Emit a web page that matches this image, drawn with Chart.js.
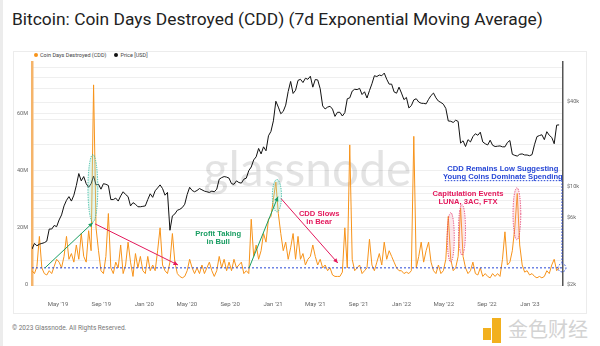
<!DOCTYPE html>
<html>
<head>
<meta charset="utf-8">
<script src="https://cdn.jsdelivr.net/npm/chart.js@4.4.0/dist/chart.umd.min.js"></script>
<style>
  html, body { margin: 0; padding: 0; background: #fff; }
  body { width: 600px; height: 346px; position: relative; overflow: hidden; font-family: Roboto, sans-serif; }
  #edge { position: absolute; left: 0; top: 0; width: 3px; height: 346px; background: #ececec; }
  #title { position: absolute; left: 12px; top: 9px; font-size: 17.4px; color: #222; white-space: nowrap; }
  #card { position: absolute; left: 13px; top: 51px; width: 574px; height: 263px; border: 1px solid #ececec; box-sizing: border-box; }
  #legend { position: absolute; left: 34px; top: 51px; font-size: 5.5px; line-height: 8px; color: #444; white-space: nowrap; }
  #legend i { display: inline-block; width: 4px; height: 4px; border-radius: 50%; margin-right: 2px; vertical-align: 0; }
  #legend span { margin-right: 8px; }
  #cdd { position: absolute; left: 13px; top: 51px; }
  #foot { position: absolute; left: 12px; top: 324px; font-size: 6.5px; color: #777; }
  #logo1 { position: absolute; left: 483px; top: 328px; width: 8px; height: 12px; background: #f2b01e; }
  #logo2 { position: absolute; left: 492px; top: 318px; width: 9px; height: 25px; background: #f2b01e; }
  #logo3 { position: absolute; left: 508px; top: 314px; font-family: "Noto Sans CJK SC"; font-size: 20px; color: #d3d3d3; }
</style>
</head>
<body>
<div id="edge"></div>
<div id="title">Bitcoin: Coin Days Destroyed (CDD) (7d Exponential Moving Average)</div>
<div id="card"></div>
<div id="legend"><span><i style="background:#f7931a"></i>Coin Days Destroyed (CDD)</span><span><i style="background:#111"></i>Price [USD]</span></div>
<canvas id="cdd" width="574" height="263"></canvas>
<div id="foot">© 2023 Glassnode. All Rights Reserved.</div>
<div id="logo1"></div><div id="logo2"></div><div id="logo3">金色财经</div>
<script>
// weekly samples, day 0 = 2019-01-01, first sample 2019-02-15
const START_DAY = 46;
const STEP_DAYS = 7;

// Coin Days Destroyed, 7d EMA (millions)
const cddValues = [
  5, 4, 6.5, 17, 6, 4, 3.5, 5, 4, 6.5,
  9, 8, 6, 10, 17, 9, 11, 8, 14, 9,
  18, 10, 8, 19, 12, 70, 20, 12, 5, 4,
  10, 25, 6, 4, 8, 6, 14, 4, 7, 15,
  8, 3, 11, 6, 10, 5, 4, 10, 5, 7,
  5, 12, 20, 7, 5, 4, 8, 18, 8, 4,
  3, 2.5, 3, 5, 9, 6, 4, 6, 4, 7,
  4, 6, 8, 5, 3, 5, 10, 6, 9, 5,
  8, 5, 9, 6, 7, 8, 4, 5, 4, 23,
  10, 14, 9, 12, 18, 15, 23, 24, 30, 36,
  25, 18, 12, 15, 9, 13, 18, 9, 17, 9,
  11, 7, 9, 10, 14, 10, 7, 9, 6, 7,
  5, 6, 3.5, 3, 3, 3, 4.5, 20, 6, 49,
  9, 5, 6, 7, 4, 5, 6, 16, 7, 5,
  8, 11, 7, 15, 9, 12, 10, 8, 6, 5,
  5, 4, 4.5, 4, 5, 52, 6, 10, 15, 8,
  12, 15, 8, 5, 4, 7, 4, 5, 9, 24,
  9, 5, 6, 10, 27, 10, 6, 4, 5, 8,
  4, 3.5, 6, 3, 4, 3, 2.5, 4, 3, 4,
  3, 9, 18.6, 7, 8, 12, 20, 32, 14, 7,
  4.5, 5, 3.5, 4, 3, 2.5, 3, 2.5, 3, 5,
  4, 7, 9, 5, 6
];

// BTC price (thousand USD)
const priceValues = [
  3.6, 3.95, 3.8, 3.9, 3.95, 4.0, 4.1, 5.0, 5.0, 5.3,
  5.2, 5.8, 6.3, 7.3, 8.0, 8.5, 7.9, 8.7, 10.2, 12.4,
  11.0, 11.8, 10.5, 9.9, 10.5, 11.9, 10.3, 10.4, 9.6, 10.5,
  10.4, 10.2, 8.1, 8.1, 8.3, 7.9, 8.6, 9.2, 8.8, 8.5,
  7.3, 7.7, 7.5, 7.2, 7.2, 7.25, 7.3, 8.1, 8.9, 8.4,
  9.35, 9.8, 10.3, 9.7, 8.7, 9.1, 4.9, 6.2, 6.4, 6.8,
  6.9, 7.1, 7.5, 8.8, 9.9, 9.4, 9.2, 9.4, 9.7, 9.5,
  9.3, 9.2, 9.1, 9.3, 9.2, 9.6, 11.3, 11.6, 11.8, 11.7,
  11.5, 10.5, 10.4, 11.0, 10.7, 10.6, 11.3, 11.5, 13.0, 13.8,
  15.5, 16.3, 18.7, 17.1, 19.2, 18.0, 23.0, 24.7, 29.4, 40.5,
  36.8, 33.0, 34.3, 38.0, 47.5, 56, 46, 48.5, 57, 58,
  55, 59, 58, 61, 51, 57.8, 57.4, 49.7, 37.5, 35.7,
  36.8, 37.3, 35.6, 31.6, 33.8, 33.8, 31.8, 33.6, 42.2, 42.8,
  47.8, 49.3, 49.0, 50.0, 45.2, 47.3, 42.7, 48.2, 53.9, 61.5,
  60.7, 62.2, 61.5, 64.2, 58.1, 53.6, 53.6, 47.2, 46.2, 51.0,
  46.3, 41.6, 43.1, 36.3, 37.7, 41.4, 42.2, 40.0, 39.2, 39.1,
  38.8, 41.8, 44.5, 46.3, 42.8, 40.6, 39.7, 38.6, 36.0, 29.3,
  29.2, 28.6, 29.7, 29.1, 20.4, 21.2, 19.3, 21.6, 20.8, 22.7,
  23.8, 23.2, 24.4, 20.8, 20.2, 19.8, 21.4, 19.7, 19.3, 19.4,
  19.5, 19.2, 19.2, 20.6, 21.3, 17.0, 16.7, 16.5, 17.0, 17.1,
  16.8, 16.8, 16.6, 16.9, 19.9, 22.7, 23.1, 23.4, 21.6, 24.6,
  23.2, 22.4, 20.2, 27.4, 27.5
];

// x-axis ticks (day numbers) and their labels
const tickDays = [120, 243, 365, 486, 609, 731, 851, 974, 1096, 1216, 1339, 1461];
const tickLabels = ["May '19", "Sep '19", "Jan '20", "May '20", "Sep '20", "Jan '21",
                    "May '21", "Sep '21", "Jan '22", "May '22", "Sep '22", "Jan '23"];

const cddTicks = [0, 20, 40, 60];
const priceGrid = [2000, 3000, 4000, 5000, 6000, 7000, 8000, 9000, 10000,
                   20000, 30000, 40000, 50000, 60000, 70000];
const priceLabels = { 2000: '$2k', 6000: '$6k', 10000: '$10k', 40000: '$40k' };

const cddPoints = cddValues.map((v, i) => ({ x: START_DAY + i * STEP_DAYS, y: v }));
const pricePoints = priceValues.map((v, i) => ({ x: START_DAY + i * STEP_DAYS, y: v * 1000 }));

const ORANGE = '#f7931a';
const GREEN = '#1a9e63';
const RED = '#e3195c';
const BLUE = '#2747d6';

// annotation layer: arrows, ellipses, notes (day, millions)
const arrows = [
  { from: [83, 6], to: [219, 21.8], color: GREEN },
  { from: [225, 21.4], to: [461, 7], color: RED },
  { from: [663, 6], to: [745, 30.9], color: GREEN },
  { from: [754, 30.2], to: [915, 7.7], color: RED }
];
const rings = [
  { day: 219, lo: 22, hi: 45.6, halfDays: 14, stroke: '#27b39a', fill: 'rgba(160,230,205,0.3)' },
  { day: 742, lo: 25.6, hi: 36.9, halfDays: 13, stroke: '#27b39a', fill: 'rgba(160,230,205,0.3)' },
  { day: 1236, lo: 8.1, hi: 25.3, halfDays: 10, stroke: '#e3306a', fill: 'rgba(245,150,165,0.22)' },
  { day: 1268, lo: 10.5, hi: 28.1, halfDays: 10, stroke: '#e3306a', fill: 'rgba(245,150,165,0.22)' },
  { day: 1424, lo: 15.8, hi: 34, halfDays: 11, stroke: '#e3306a', fill: 'rgba(245,150,165,0.22)' }
];
const notes = [
  { day: 575, at: 17.9, lines: ['Profit Taking', 'in Bull'], color: GREEN },
  { day: 862, at: 24.9, lines: ['CDD Slows', 'in Bear'], color: RED },
  { day: 1285, at: 31.9, lines: ['Capitulation Events', 'LUNA, 3AC, FTX'], color: RED },
  { day: 1384, at: 40.7, lines: ['CDD Remains Low Suggesting', 'Young Coins Dominate Spending'], color: BLUE }
];
const BASELINE = 6;

function drawArrow(ctx, x1, y1, x2, y2, color) {
  ctx.strokeStyle = color;
  ctx.fillStyle = color;
  ctx.lineWidth = 1;
  ctx.setLineDash([]);
  ctx.beginPath();
  ctx.moveTo(x1, y1);
  ctx.lineTo(x2, y2);
  ctx.stroke();
  const a = Math.atan2(y2 - y1, x2 - x1), s = 5;
  ctx.beginPath();
  ctx.moveTo(x2, y2);
  ctx.lineTo(x2 - s * Math.cos(a - 0.45), y2 - s * Math.sin(a - 0.45));
  ctx.lineTo(x2 - s * Math.cos(a + 0.45), y2 - s * Math.sin(a + 0.45));
  ctx.closePath();
  ctx.fill();
}

const overlay = {
  id: 'overlay',
  beforeDatasetsDraw(chart) {
    const { ctx, chartArea: a } = chart;
    ctx.save();
    ctx.font = '48px Lato';
    ctx.fillStyle = 'rgba(0,0,0,0.11)';
    ctx.textAlign = 'center';
    ctx.textBaseline = 'alphabetic';
    ctx.fillText('glassnode', (a.left + a.right) / 2 + 10, 135);
    ctx.restore();
  },
  afterDatasetsDraw(chart) {
    const { ctx, chartArea: a, scales } = chart;
    const px = d => scales.x.getPixelForValue(d);
    const py = v => scales.y.getPixelForValue(v);
    ctx.save();

    // dotted baseline
    ctx.strokeStyle = BLUE;
    ctx.lineWidth = 1;
    ctx.setLineDash([2, 2]);
    ctx.beginPath();
    ctx.moveTo(a.left, py(BASELINE));
    ctx.lineTo(a.right, py(BASELINE));
    ctx.stroke();

    // box edge under the blue note and the drop to the last value
    const boxY = py(36.5), endX = px(1552);
    ctx.setLineDash([1.5, 1.5]);
    ctx.beginPath();
    ctx.moveTo(px(1219), boxY);
    ctx.lineTo(endX, boxY);
    ctx.lineTo(endX, py(BASELINE) - 4);
    ctx.stroke();
    ctx.beginPath();
    ctx.arc(endX, py(BASELINE), 4, 0, Math.PI * 2);
    ctx.stroke();

    rings.forEach(r => {
      const cx = px(r.day), top = py(r.hi), bot = py(r.lo);
      const rx = px(r.day + r.halfDays) - cx;
      ctx.beginPath();
      ctx.ellipse(cx, (top + bot) / 2, rx, (bot - top) / 2, 0, 0, Math.PI * 2);
      ctx.fillStyle = r.fill;
      ctx.fill();
      ctx.setLineDash([1.2, 1.2]);
      ctx.strokeStyle = r.stroke;
      ctx.lineWidth = 0.9;
      ctx.stroke();
    });

    arrows.forEach(ar => drawArrow(ctx, px(ar.from[0]), py(ar.from[1]), px(ar.to[0]), py(ar.to[1]), ar.color));

    ctx.font = 'bold 7.6px "Liberation Sans"';
    ctx.textAlign = 'center';
    ctx.textBaseline = 'middle';
    notes.forEach(n => {
      ctx.fillStyle = n.color;
      n.lines.forEach((t, i) => ctx.fillText(t, px(n.day), py(n.at) + i * 8.5));
    });
    ctx.restore();
  }
};

Chart.defaults.font.family = 'Roboto';
Chart.defaults.animation = false;

new Chart(document.getElementById('cdd'), {
  type: 'line',
  data: {
    datasets: [
      {
        label: 'Price [USD]',
        data: pricePoints,
        yAxisID: 'y1',
        borderColor: '#111',
        borderWidth: 1,
        pointRadius: 0,
        tension: 0
      },
      {
        label: 'Coin Days Destroyed (CDD)',
        data: cddPoints,
        yAxisID: 'y',
        borderColor: ORANGE,
        borderWidth: 1,
        pointRadius: 0,
        tension: 0
      }
    ]
  },
  options: {
    responsive: false,
    layout: { padding: { top: 11, left: 0, right: 0, bottom: 0 } },
    plugins: { legend: { display: false }, tooltip: { enabled: false } },
    scales: {
      x: {
        type: 'linear',
        min: START_DAY,
        max: 1555,
        afterBuildTicks: axis => { axis.ticks = tickDays.map(v => ({ value: v })); },
        afterFit: axis => { axis.height = 29; },
        ticks: {
          autoSkip: false,
          maxRotation: 0,
          padding: 8,
          color: '#666',
          font: { size: 6 },
          callback: v => tickLabels[tickDays.indexOf(v)]
        },
        grid: { display: false },
        border: { display: false }
      },
      y: {
        position: 'left',
        min: 0,
        max: 78,
        afterBuildTicks: axis => { axis.ticks = cddTicks.map(v => ({ value: v })); },
        afterFit: axis => { axis.width = 19; },
        ticks: {
          padding: 4,
          color: '#666',
          font: { size: 5.5 },
          callback: v => (v ? v + 'M' : '0')
        },
        grid: { color: '#efefef', drawTicks: false },
        border: { color: '#f5b46a', width: 2.5 }
      },
      y1: {
        type: 'logarithmic',
        position: 'right',
        min: 2000,
        max: 77000,
        afterBuildTicks: axis => { axis.ticks = priceGrid.map(v => ({ value: v })); },
        afterFit: axis => { axis.width = 24; },
        ticks: {
          padding: 4,
          color: '#666',
          font: { size: 5.5 },
          callback: v => priceLabels[v] || ''
        },
        grid: { color: '#efefef', drawTicks: false },
        border: { color: '#555', width: 1.5 }
      }
    }
  },
  plugins: [overlay]
});
</script>
</body>
</html>
